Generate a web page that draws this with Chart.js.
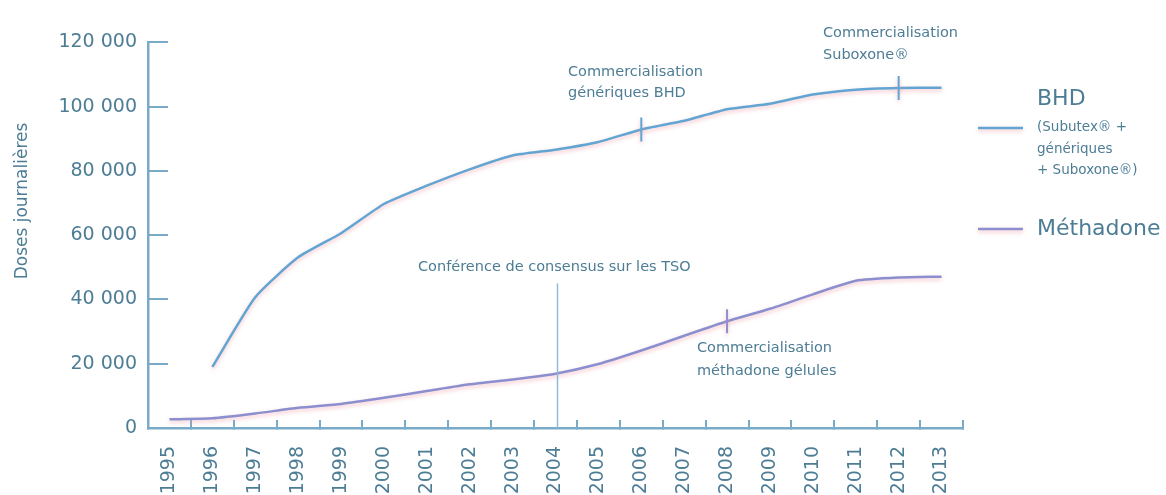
<!DOCTYPE html>
<html lang="fr">
<head>
<meta charset="utf-8">
<title>BHD et méthadone</title>
<script src="https://cdn.jsdelivr.net/npm/chart.js@4.4.1/dist/chart.umd.min.js"></script>
<style>
  html, body { margin: 0; padding: 0; background: #fff; }
  #wrap { width: 1166px; height: 495px; }
</style>
</head>
<body>
<div id="wrap"><canvas id="chart" width="1166" height="495"></canvas></div>
<script>
// years on the x axis
const years = ['1995', '1996', '1997', '1998', '1999', '2000', '2001', '2002', '2003', '2004',
    '2005', '2006', '2007', '2008', '2009', '2010', '2011', '2012', '2013']

// BHD (Subutex + génériques + Suboxone), doses journalières
const bhd = [null, 19000, 40700, 53100, 60600, 69700, 75400, 80500, 84800, 86600,
    89000, 92900, 95600, 99200, 100900, 103800, 105300, 105800, 105900]

// Méthadone
const methadone = [2700, 3000, 4500, 6300, 7500, 9400, 11500, 13600, 15100, 16900,
    19900, 24100, 28700, 33200, 37100, 41600, 45800, 46800, 47100]

// years where a marker is put on the curve
const bhdMarks = ['2006', '2012']
const methadoneMarks = ['2008']

const yTicks = [0, 20000, 40000, 60000, 80000, 100000, 120000]

const textColor = '#4d7d95'
const axisColor = '#79abc8'
const bhdColor = '#62a5d3'
const methColor = '#8c8fcf'

function fmt(v) {
    return String(v).replace(/\B(?=(\d{3})+(?!\d))/g, ' ')
}

function marks(list) {
    return years.map(y => list.includes(y) ? 12 : 0)
}

// pinkish halo under the curves
const halo = {
    id: 'halo',
    beforeDatasetDraw(chart) {
        const ctx = chart.ctx
        ctx.save()
        ctx.shadowColor = 'rgba(238, 150, 160, 0.6)'
        ctx.shadowBlur = 4
        ctx.shadowOffsetY = 2
    },
    afterDatasetDraw(chart) {
        chart.ctx.restore()
    }
}

// texts: y title, notes, legend on the right
const notes = {
    id: 'notes',
    afterDraw(chart) {
        const ctx = chart.ctx
        const x = chart.scales.x
        const y = chart.scales.y
        ctx.save()
        ctx.fillStyle = textColor
        ctx.textBaseline = 'middle'

        // y title
        ctx.save()
        ctx.translate(23, 201)
        ctx.rotate(-Math.PI / 2)
        ctx.textAlign = 'center'
        ctx.font = '17px "DejaVu Sans"'
        ctx.fillText('Doses journalières', 0, 0)
        ctx.restore()

        ctx.textAlign = 'left'
        ctx.font = '14.5px "DejaVu Sans"'
        ctx.fillText('Commercialisation', 568, 72)
        ctx.fillText('génériques BHD', 568, 93)
        ctx.fillText('Commercialisation', 823, 33)
        ctx.fillText('Suboxone®', 823, 55)
        ctx.fillText('Conférence de consensus sur les TSO', 418, 267)
        ctx.fillText('Commercialisation', 697, 348)
        ctx.fillText('méthadone gélules', 697, 371)

        // vertical line for the 2004 conference
        const cx = x.getPixelForValue(years.indexOf('2004')) + 2
        ctx.strokeStyle = '#8dbbd9'
        ctx.lineWidth = 1.5
        ctx.beginPath()
        ctx.moveTo(cx, y.getPixelForValue(45000))
        ctx.lineTo(cx, y.getPixelForValue(0))
        ctx.stroke()

        // legend
        ctx.shadowColor = 'rgba(238, 150, 160, 0.6)'
        ctx.shadowBlur = 4
        ctx.shadowOffsetY = 2
        ctx.lineWidth = 2.5
        ctx.strokeStyle = bhdColor
        ctx.beginPath()
        ctx.moveTo(978, 128)
        ctx.lineTo(1023, 128)
        ctx.stroke()
        ctx.strokeStyle = methColor
        ctx.beginPath()
        ctx.moveTo(978, 229)
        ctx.lineTo(1023, 229)
        ctx.stroke()
        ctx.shadowColor = 'transparent'

        ctx.font = '22px "DejaVu Sans"'
        ctx.fillText('BHD', 1037, 99)
        ctx.fillText('Méthadone', 1037, 229)
        ctx.font = '13.5px "DejaVu Sans"'
        ctx.fillText('(Subutex® +', 1037, 127)
        ctx.fillText('génériques', 1037, 149)
        ctx.fillText('+ Suboxone®)', 1037, 170)
        ctx.restore()
    }
}

new Chart(document.getElementById('chart'), {
    type: 'line',
    data: {
        labels: years,
        datasets: [
            {
                label: 'BHD',
                data: bhd,
                borderColor: bhdColor,
                borderWidth: 2.5,
                tension: 0.18,
                pointStyle: 'line',
                pointRotation: 90,
                pointRadius: marks(bhdMarks),
                pointBorderColor: bhdColor,
                pointBorderWidth: 2,
                fill: false,
            },
            {
                label: 'Méthadone',
                data: methadone,
                borderColor: methColor,
                borderWidth: 2.5,
                tension: 0.18,
                pointStyle: 'line',
                pointRotation: 90,
                pointRadius: marks(methadoneMarks),
                pointBorderColor: methColor,
                pointBorderWidth: 2,
                fill: false,
            }
        ]
    },
    options: {
        responsive: false,
        animation: false,
        events: [],
        layout: {
            padding: {left: 10, right: 203, top: 30, bottom: 0}
        },
        plugins: {
            legend: {display: false},
            tooltip: {enabled: false}
        },
        scales: {
            x: {
                type: 'category',
                offset: true,
                afterFit: scale => { scale.height = 67 },
                border: {color: axisColor, width: 2.5},
                grid: {
                    offset: true,
                    drawOnChartArea: false,
                    drawTicks: true,
                    tickLength: -8,
                    color: axisColor,
                    lineWidth: 2
                },
                ticks: {
                    autoSkip: false,
                    minRotation: 90,
                    maxRotation: 90,
                    padding: 26,
                    color: textColor,
                    font: {family: 'DejaVu Sans', size: 19}
                }
            },
            y: {
                min: 0,
                max: 120000,
                afterFit: scale => { scale.width = 138 },
                afterBuildTicks: scale => { scale.ticks = yTicks.map(v => ({value: v})) },
                border: {color: axisColor, width: 2.5},
                grid: {
                    drawOnChartArea: false,
                    drawTicks: true,
                    tickLength: -20,
                    color: axisColor,
                    lineWidth: 2
                },
                ticks: {
                    padding: 31,
                    color: textColor,
                    font: {family: 'DejaVu Sans', size: 19},
                    callback: v => fmt(v)
                }
            }
        }
    },
    plugins: [halo, notes]
});
</script>
</body>
</html>
